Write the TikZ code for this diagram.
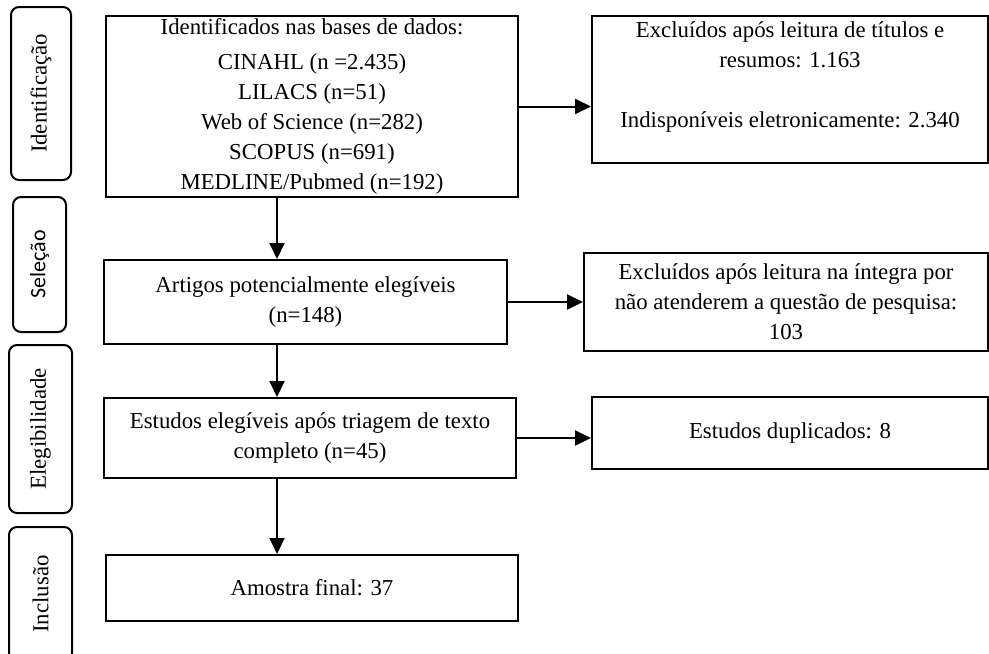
\documentclass[tikz,border=0pt]{standalone}
\usepackage{fontspec}
\setmainfont{Liberation Serif}
\newfontfamily\calibrifont{Carlito}
\usetikzlibrary{arrows.meta}

\begin{document}
\begin{tikzpicture}[x=0.5pt, y=-0.5pt, box/.style={draw, rectangle, line width=1pt, align=center, inner sep=0pt, font=\fontsize{11.4}{15}\selectfont}, phase/.style={draw, rectangle, rounded corners=4pt, line width=1pt, rotate=90, inner sep=0pt, font=\fontsize{11.4}{15}\selectfont}, n/.style={-{Triangle[length=8pt, width=7.5pt]}, line width=1pt}]
        \useasboundingbox (0,0) rectangle (989,653);
        % phases
        \node[phase, minimum width=86.5pt, minimum height=30pt] (identificacao) at (41,93.5) {Identificação};
        \node[phase, minimum width=67.5pt, minimum height=26.5pt, font=\calibrifont\fontsize{11}{14}\selectfont] (selecao) at (39.5,264.5) {Seleção};
        \node[phase, minimum width=84pt, minimum height=31.5pt] (elegibilidade) at (40.5,429) {Elegibilidade};
        \node[phase, minimum width=67pt, minimum height=31.5pt] (inclusao) at (40.5,594) {Inclusão};
        % nodes
        \node[box, minimum width=206pt, minimum height=90.5pt] (ident) at (312,106.5) {Identificados nas bases de dados:\\[2.5pt] CINAHL (n =2.435)\\ LILACS (n=51)\\ Web of Science (n=282)\\ SCOPUS (n=691)\\ MEDLINE/Pubmed (n=192)};
        \node[box, minimum width=198pt, minimum height=73.5pt] (excl1) at (790,89.5) {Excluídos após leitura de títulos e\\ resumos: 1.163\\ \mbox{}\\ Indisponíveis eletronicamente: 2.340\\ \mbox{}};
        \node[box, minimum width=201.5pt, minimum height=42pt] (artigos) at (305.5,302) {Artigos potencialmente elegíveis\\ (n=148)};
        \node[box, minimum width=202pt, minimum height=49pt] (excl2) at (786,302) {Excluídos após leitura na íntegra por\\ não atenderem a questão de pesquisa:\\ 103};
        \node[box, minimum width=206pt, minimum height=40pt] (estudos) at (310,438) {Estudos elegíveis após triagem de texto\\ completo (n=45)};
        \node[box, minimum width=198pt, minimum height=36pt] (dup) at (790,433) {Estudos duplicados: 8};
        \node[box, minimum width=206pt, minimum height=33pt] (amostra) at (312,588) {Amostra final: 37};
        \coordinate (spine) at (277,0);
        % edges
        \draw[n] (ident.south -| spine) -- (artigos.north -| spine);
        \draw[n] (artigos.south -| spine) -- (estudos.north -| spine);
        \draw[n] (estudos.south -| spine) -- (amostra.north -| spine);
        \draw[n] (ident.east) -- (ident.east -| excl1.west);
        \draw[n] (artigos.east) -- (artigos.east -| excl2.west);
        \draw[n] (estudos.east) -- (estudos.east -| dup.west);
    \end{tikzpicture}
\end{document}
